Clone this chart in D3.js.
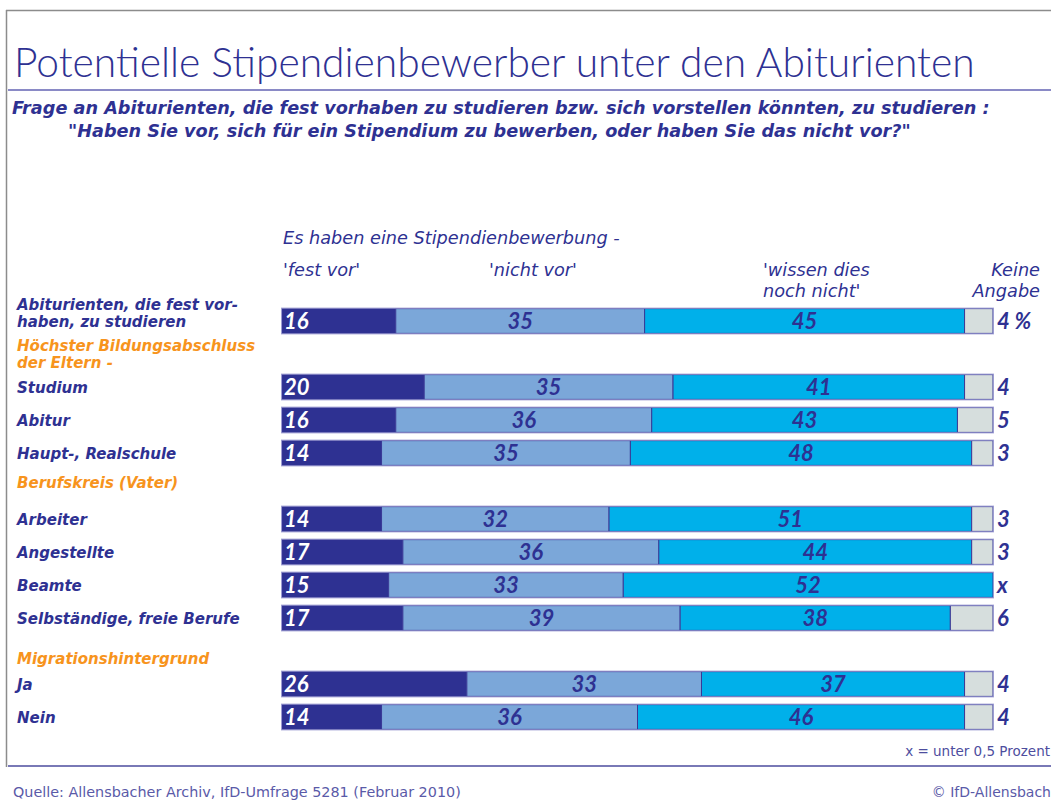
<!DOCTYPE html>
<html>
<head>
<meta charset="utf-8">
<script src="https://cdn.jsdelivr.net/npm/d3@7"></script>
<style>
  body { margin: 0; background: #fff; }
  svg { display: block; font-family: "DejaVu Sans", "Noto Sans", sans-serif; }
</style>
</head>
<body>
<div id="chart"></div>
<script>
// rows of the chart, headings included (they take one slot each)
var rows = ["Abiturienten", "h1", "Studium", "Abitur", "Haupt", "h2", "Arbeiter", "Angestellte", "Beamte", "Selbst", "h3", "Ja", "Nein"];
var rowLabels = {
	"Abiturienten": ["Abiturienten, die fest vor-", "haben, zu studieren"],
	"Studium": ["Studium"],
	"Abitur": ["Abitur"],
	"Haupt": ["Haupt-, Realschule"],
	"Arbeiter": ["Arbeiter"],
	"Angestellte": ["Angestellte"],
	"Beamte": ["Beamte"],
	"Selbst": ["Selbständige, freie Berufe"],
	"Ja": ["Ja"],
	"Nein": ["Nein"]
};
var headings = {
	"h1": ["Höchster Bildungsabschluss", "der Eltern -"],
	"h2": ["Berufskreis (Vater)"],
	"h3": ["Migrationshintergrund"]
};
var barRows = ["Abiturienten", "Studium", "Abitur", "Haupt", "Arbeiter", "Angestellte", "Beamte", "Selbst", "Ja", "Nein"];

var festVor    = [16, 20, 16, 14, 14, 17, 15, 17, 26, 14];
var nichtVor   = [35, 35, 36, 35, 32, 36, 33, 39, 33, 36];
var wissenNicht= [45, 41, 43, 48, 51, 44, 52, 38, 37, 46];
var keineAng   = [4, 4, 5, 3, 3, 3, 0, 6, 4, 4];
var keineText  = ["4 %", "4", "5", "3", "3", "3", "x", "6", "4", "4"];

var seriesKeys = ["fest", "nicht", "wissen", "keine"];
var seriesColors = ["#2e3192", "#7ba7d9", "#00b0ea", "#d6dedd"];

var width = 1051, height = 800;
var navy = "#2e3192", orange = "#f7941d";

var svg = d3.select("#chart").append("svg")
	.attr("width", width)
	.attr("height", height);

// frame
svg.append("line").attr("x1", 6).attr("x2", width).attr("y1", 10.5).attr("y2", 10.5)
	.attr("stroke", "#8c8c8c").attr("stroke-width", 1.5);
svg.append("line").attr("x1", 6.5).attr("x2", 6.5).attr("y1", 10).attr("y2", 767)
	.attr("stroke", "#8c8c8c").attr("stroke-width", 1.5);
svg.append("line").attr("x1", 8).attr("x2", width).attr("y1", 90).attr("y2", 90)
	.attr("stroke", "#8a8ac6").attr("stroke-width", 2);
svg.append("line").attr("x1", 8).attr("x2", width).attr("y1", 766).attr("y2", 766)
	.attr("stroke", "#4d4d9e").attr("stroke-width", 1.5);

// scale text so it spans a given width
function fitText(sel, w) {
	var len = sel.node().getComputedTextLength();
	var fs = parseFloat(sel.attr("font-size"));
	sel.attr("font-size", (fs * w / len).toFixed(2));
	return sel;
}

fitText(svg.append("text").attr("x", 14).attr("y", 77)
	.style("font-family", "Lato, sans-serif")
	.attr("font-size", 38).attr("font-weight", 300).attr("fill", navy)
	.text("Potentielle Stipendienbewerber unter den Abiturienten"), 961);

// subtitle as one text with two lines
var sub = svg.append("text")
	.attr("font-size", 17).attr("font-weight", "bold").attr("font-style", "italic").attr("fill", navy);
var s1 = sub.append("tspan").attr("x", 12).attr("y", 114)
	.text("Frage an Abiturienten, die fest vorhaben zu studieren bzw. sich vorstellen könnten, zu studieren :");
var s2 = sub.append("tspan").attr("x", 68).attr("y", 137)
	.text("\"Haben Sie vor, sich für ein Stipendium zu bewerben, oder haben Sie das nicht vor?\"");
var subLen = s1.node().getComputedTextLength();
sub.attr("font-size", (17 * 978 / subLen).toFixed(2));

// column headers
var headG = svg.append("g")
	.attr("font-size", 15).attr("font-style", "italic").attr("fill", navy);
var esHaben = headG.append("text").attr("x", 283).attr("y", 244)
	.text("Es haben eine Stipendienbewerbung -");
headG.append("text").attr("x", 283).attr("y", 276).text("'fest vor'");
headG.append("text").attr("x", 489).attr("y", 276).text("'nicht vor'");
var wd = headG.append("text");
wd.append("tspan").attr("x", 763).attr("y", 276).text("'wissen dies");
wd.append("tspan").attr("x", 763).attr("y", 297).text("noch nicht'");
var ka = headG.append("text").attr("text-anchor", "end");
ka.append("tspan").attr("x", 1040).attr("y", 276).text("Keine");
ka.append("tspan").attr("x", 1040).attr("y", 297).text("Angabe");
headG.attr("font-size", (15 * 337 / esHaben.node().getComputedTextLength()).toFixed(2));

// scales
var x = d3.scaleLinear().domain([0, 100]).range([282, 993]);
var y = d3.scaleBand().domain(rows).range([304.5, 733.5]).paddingInner(0.25).paddingOuter(0.125);

var table = barRows.map(function(r, i) {
	return {row: r, fest: festVor[i], nicht: nichtVor[i], wissen: wissenNicht[i], keine: keineAng[i], label: keineText[i]};
});
var stacked = d3.stack().keys(seriesKeys)(table);

var layers = svg.append("g").selectAll("g")
	.data(stacked)
	.join("g")
	.attr("fill", function(d, i) { return seriesColors[i]; });

layers.selectAll("rect")
	.data(function(d) { return d; })
	.join("rect")
	.attr("x", function(d) { return x(d[0]); })
	.attr("y", function(d) { return y(d.data.row); })
	.attr("width", function(d) { return x(d[1]) - x(d[0]); })
	.attr("height", y.bandwidth())
	.attr("stroke", "#3a3a96")
	.attr("stroke-width", 1);

// outer outline
svg.append("g").selectAll("rect")
	.data(table)
	.join("rect")
	.attr("x", x(0) - 0.5)
	.attr("y", function(d) { return y(d.row) - 0.5; })
	.attr("width", x(100) - x(0) + 1)
	.attr("height", y.bandwidth() + 1)
	.attr("fill", "none")
	.attr("stroke", "#9c9cd2")
	.attr("stroke-width", 1);

// values inside bars
var valueG = svg.append("g")
	.style("font-family", "Lato, sans-serif")
	.attr("font-size", 22).attr("font-weight", "bold").attr("font-style", "italic");
valueG.selectAll("text.fest")
	.data(stacked[0])
	.join("text")
	.attr("x", x(0) + 2)
	.attr("y", function(d) { return y(d.data.row) + y.bandwidth() / 2 + 8; })
	.attr("fill", "#fff")
	.text(function(d) { return d.data.fest; });
[1, 2].forEach(function(k) {
	valueG.append("g").selectAll("text")
		.data(stacked[k])
		.join("text")
		.attr("x", function(d) { return (x(d[0]) + x(d[1])) / 2; })
		.attr("y", function(d) { return y(d.data.row) + y.bandwidth() / 2 + 8; })
		.attr("text-anchor", "middle")
		.attr("fill", navy)
		.text(function(d) { return d.data[seriesKeys[k]]; });
});
valueG.append("g").selectAll("text")
	.data(table)
	.join("text")
	.attr("x", x(100) + 4)
	.attr("y", function(d) { return y(d.row) + y.bandwidth() / 2 + 8; })
	.attr("fill", navy)
	.text(function(d) { return d.label; });

// row labels
var labelG = svg.append("g")
	.attr("font-size", 15).attr("font-weight", "bold").attr("font-style", "italic");
barRows.forEach(function(r) {
	var lines = rowLabels[r];
	var mid = y(r) + y.bandwidth() / 2;
	var t = labelG.append("text").attr("fill", navy);
	lines.forEach(function(s, j) {
		t.append("tspan")
			.attr("x", 17)
			.attr("y", mid + 6 - (lines.length - 1 - j) * 17)
			.text(s);
	});
});
var headOffsets = {"h1": [-3, 14], "h2": [2], "h3": [13]};
Object.keys(headings).forEach(function(h) {
	var mid = y(h) + y.bandwidth() / 2;
	var t = labelG.append("text").attr("fill", orange);
	headings[h].forEach(function(s, j) {
		t.append("tspan")
			.attr("x", 17)
			.attr("y", mid + headOffsets[h][j])
			.text(s);
	});
});
// size labels so the longest one matches the picture
var probe = labelG.selectAll("text").filter(function() { return this.textContent == "Selbständige, freie Berufe"; });
var pLen = probe.node().getComputedTextLength();
labelG.attr("font-size", (15 * 223 / pLen).toFixed(2));

// footnotes
fitText(svg.append("text").attr("x", 1050).attr("y", 756).attr("text-anchor", "end")
	.attr("font-size", 13).attr("fill", "#4d4d9e").text("x = unter 0,5 Prozent"), 145);
fitText(svg.append("text").attr("x", 13).attr("y", 797)
	.attr("font-size", 14).attr("fill", "#5a5aa8")
	.text("Quelle: Allensbacher Archiv, IfD-Umfrage 5281 (Februar 2010)"), 448);
svg.append("text").attr("x", 1051).attr("y", 797).attr("text-anchor", "end")
	.attr("font-size", 14).attr("fill", "#5a5aa8")
	.text("© IfD-Allensbach");
</script>
</body>
</html>
